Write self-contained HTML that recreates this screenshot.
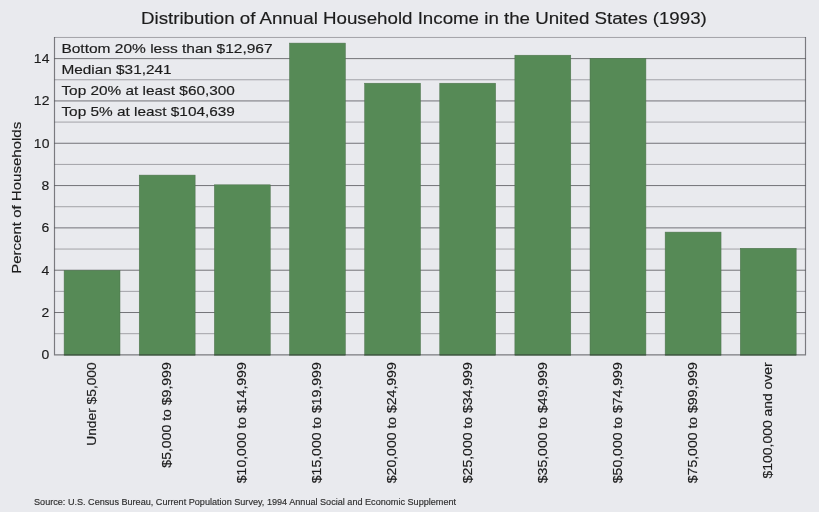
<!DOCTYPE html>
<html><head><meta charset="utf-8"><style>
html,body{margin:0;padding:0;background:#e9eaee;}
body{width:819px;height:512px;overflow:hidden;}
svg{display:block;will-change:transform;}
text{font-family:"Liberation Sans",sans-serif;fill:#1c1c1c;stroke:#1c1c1c;stroke-width:0.16px;}
</style></head><body>
<svg width="819" height="512" viewBox="0 0 819 512">
<rect width="819" height="512" fill="#e9eaee"/>
<line x1="54.5" x2="805.5" y1="333.69" y2="333.69" stroke="#a2a2a7" stroke-width="1"/>
<line x1="54.5" x2="805.5" y1="312.53" y2="312.53" stroke="#737378" stroke-width="1"/>
<line x1="54.5" x2="805.5" y1="291.37" y2="291.37" stroke="#a2a2a7" stroke-width="1"/>
<line x1="54.5" x2="805.5" y1="270.21" y2="270.21" stroke="#737378" stroke-width="1"/>
<line x1="54.5" x2="805.5" y1="249.05" y2="249.05" stroke="#a2a2a7" stroke-width="1"/>
<line x1="54.5" x2="805.5" y1="227.89" y2="227.89" stroke="#737378" stroke-width="1"/>
<line x1="54.5" x2="805.5" y1="206.73" y2="206.73" stroke="#a2a2a7" stroke-width="1"/>
<line x1="54.5" x2="805.5" y1="185.57" y2="185.57" stroke="#737378" stroke-width="1"/>
<line x1="54.5" x2="805.5" y1="164.41" y2="164.41" stroke="#a2a2a7" stroke-width="1"/>
<line x1="54.5" x2="805.5" y1="143.25" y2="143.25" stroke="#737378" stroke-width="1"/>
<line x1="54.5" x2="805.5" y1="122.09" y2="122.09" stroke="#a2a2a7" stroke-width="1"/>
<line x1="54.5" x2="805.5" y1="100.93" y2="100.93" stroke="#737378" stroke-width="1"/>
<line x1="54.5" x2="805.5" y1="79.77" y2="79.77" stroke="#a2a2a7" stroke-width="1"/>
<line x1="54.5" x2="805.5" y1="58.61" y2="58.61" stroke="#737378" stroke-width="1"/>
<line x1="54.5" x2="805.5" y1="37.45" y2="37.45" stroke="#a2a2a7" stroke-width="1"/>
<rect x="64.10" y="270.30" width="55.9" height="84.95" fill="#568a56" stroke="#4f724f" stroke-width="0.5"/>
<rect x="139.23" y="175.10" width="55.9" height="180.15" fill="#568a56" stroke="#4f724f" stroke-width="0.5"/>
<rect x="214.36" y="184.80" width="55.9" height="170.45" fill="#568a56" stroke="#4f724f" stroke-width="0.5"/>
<rect x="289.49" y="43.10" width="55.9" height="312.15" fill="#568a56" stroke="#4f724f" stroke-width="0.5"/>
<rect x="364.62" y="83.20" width="55.9" height="272.05" fill="#568a56" stroke="#4f724f" stroke-width="0.5"/>
<rect x="439.75" y="83.20" width="55.9" height="272.05" fill="#568a56" stroke="#4f724f" stroke-width="0.5"/>
<rect x="514.88" y="55.20" width="55.9" height="300.05" fill="#568a56" stroke="#4f724f" stroke-width="0.5"/>
<rect x="590.01" y="58.30" width="55.9" height="296.95" fill="#568a56" stroke="#4f724f" stroke-width="0.5"/>
<rect x="665.14" y="232.10" width="55.9" height="123.15" fill="#568a56" stroke="#4f724f" stroke-width="0.5"/>
<rect x="740.27" y="248.30" width="55.9" height="106.95" fill="#568a56" stroke="#4f724f" stroke-width="0.5"/>
<path d="M54.5,36.95 V354.85 H805.5 V36.95" fill="none" stroke="#2a2a2e" stroke-opacity="0.58" stroke-width="1.15"/>
<text x="49.40" y="359.15" text-anchor="end" font-size="13.40" textLength="7.76" lengthAdjust="spacingAndGlyphs">0</text>
<text x="49.40" y="316.83" text-anchor="end" font-size="13.40" textLength="7.76" lengthAdjust="spacingAndGlyphs">2</text>
<text x="49.40" y="274.51" text-anchor="end" font-size="13.40" textLength="7.76" lengthAdjust="spacingAndGlyphs">4</text>
<text x="49.40" y="232.19" text-anchor="end" font-size="13.40" textLength="7.76" lengthAdjust="spacingAndGlyphs">6</text>
<text x="49.40" y="189.87" text-anchor="end" font-size="13.40" textLength="7.76" lengthAdjust="spacingAndGlyphs">8</text>
<text x="49.40" y="147.55" text-anchor="end" font-size="13.40" textLength="15.52" lengthAdjust="spacingAndGlyphs">10</text>
<text x="49.40" y="105.23" text-anchor="end" font-size="13.40" textLength="15.52" lengthAdjust="spacingAndGlyphs">12</text>
<text x="49.40" y="62.91" text-anchor="end" font-size="13.40" textLength="15.52" lengthAdjust="spacingAndGlyphs">14</text>
<text transform="translate(95.85,362.3) rotate(-90)" text-anchor="end" font-size="13.40" textLength="83.49" lengthAdjust="spacingAndGlyphs">Under $5,000</text>
<text transform="translate(170.98,362.3) rotate(-90)" text-anchor="end" font-size="13.40" textLength="105.38" lengthAdjust="spacingAndGlyphs">$5,000 to $9,999</text>
<text transform="translate(246.11,362.3) rotate(-90)" text-anchor="end" font-size="13.40" textLength="120.90" lengthAdjust="spacingAndGlyphs">$10,000 to $14,999</text>
<text transform="translate(321.24,362.3) rotate(-90)" text-anchor="end" font-size="13.40" textLength="120.90" lengthAdjust="spacingAndGlyphs">$15,000 to $19,999</text>
<text transform="translate(396.37,362.3) rotate(-90)" text-anchor="end" font-size="13.40" textLength="120.90" lengthAdjust="spacingAndGlyphs">$20,000 to $24,999</text>
<text transform="translate(471.50,362.3) rotate(-90)" text-anchor="end" font-size="13.40" textLength="120.90" lengthAdjust="spacingAndGlyphs">$25,000 to $34,999</text>
<text transform="translate(546.63,362.3) rotate(-90)" text-anchor="end" font-size="13.40" textLength="120.90" lengthAdjust="spacingAndGlyphs">$35,000 to $49,999</text>
<text transform="translate(621.76,362.3) rotate(-90)" text-anchor="end" font-size="13.40" textLength="120.90" lengthAdjust="spacingAndGlyphs">$50,000 to $74,999</text>
<text transform="translate(696.89,362.3) rotate(-90)" text-anchor="end" font-size="13.40" textLength="120.90" lengthAdjust="spacingAndGlyphs">$75,000 to $99,999</text>
<text transform="translate(772.02,362.3) rotate(-90)" text-anchor="end" font-size="13.40" textLength="116.13" lengthAdjust="spacingAndGlyphs">$100,000 and over</text>
<text x="141.00" y="23.50" font-size="15.90" textLength="565.82" lengthAdjust="spacingAndGlyphs" style="stroke-width:0.15px">Distribution of Annual Household Income in the United States (1993)</text>
<text x="61.40" y="52.90" font-size="13.20" textLength="211.18" lengthAdjust="spacingAndGlyphs">Bottom 20% less than $12,967</text>
<text x="61.40" y="74.20" font-size="13.20" textLength="110.19" lengthAdjust="spacingAndGlyphs">Median $31,241</text>
<text x="61.40" y="95.00" font-size="13.20" textLength="173.53" lengthAdjust="spacingAndGlyphs">Top 20% at least $60,300</text>
<text x="61.40" y="115.90" font-size="13.20" textLength="173.53" lengthAdjust="spacingAndGlyphs">Top 5% at least $104,639</text>
<text transform="translate(20.6,197.8) rotate(-90)" text-anchor="middle" font-size="13.30" textLength="151.98" lengthAdjust="spacingAndGlyphs">Percent of Households</text>
<text x="34.00" y="505.20" font-size="9.00" textLength="422.07" lengthAdjust="spacingAndGlyphs" style="fill:#2e2e2e;stroke:#2e2e2e;stroke-width:0.15px">Source: U.S. Census Bureau, Current Population Survey, 1994 Annual Social and Economic Supplement</text>
</svg>
</body></html>
